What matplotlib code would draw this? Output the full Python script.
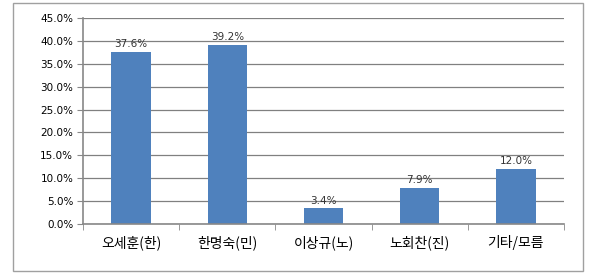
import matplotlib.pyplot as plt
from matplotlib.patches import Rectangle

plt.rcParams['font.family'] = ['Noto Sans CJK KR', 'DejaVu Sans']

candidates = ["오세훈(한)", "한명숙(민)", "이상규(노)", "노회찬(진)", "기타/모름"]
support = [37.6, 39.2, 3.4, 7.9, 12.0]
yticks = [0, 5, 10, 15, 20, 25, 30, 35, 40, 45]

fig = plt.figure(figsize=(5.9, 2.74), dpi=100)
fig.patches.append(Rectangle((13 / 590, 3 / 274), 570 / 590, 268 / 274,
                             transform=fig.transFigure, fill=False,
                             edgecolor="#a0a0a0", linewidth=1.0))

ax = fig.add_axes([83 / 590, 50 / 274, 481 / 590, 206 / 274])
x = range(len(candidates))
ax.bar(x, support, width=0.41, color="#4f81bd", zorder=2)
for xi, v in zip(x, support):
    ax.text(xi, v + 0.6, f"{v:.1f}%", ha="center", va="bottom", fontsize=7.5,
            family="DejaVu Sans", color="#333333", zorder=3)

ax.set_xlim(-0.5, len(candidates) - 0.5)
ax.set_ylim(0, 45)
ax.set_yticks(yticks)
ax.set_yticklabels([f"{t:.1f}%" for t in yticks], fontsize=7.5,
                   family="DejaVu Sans")
ax.yaxis.grid(True, color="#808080", linewidth=0.9, zorder=0)
ax.set_xticks(list(x))
ax.set_xticklabels(candidates, fontsize=10)
ax.set_xticks([i - 0.5 for i in range(len(candidates) + 1)], minor=True)
ax.tick_params(axis="x", which="major", length=0, pad=8)
ax.tick_params(axis="x", which="minor", length=4, color="#888888")
ax.tick_params(axis="y", length=4, color="#888888", pad=3)

for side in ["top", "right"]:
    ax.spines[side].set_visible(False)
for side in ["left", "bottom"]:
    ax.spines[side].set_color("#888888")
    ax.spines[side].set_linewidth(1.2)

fig.savefig("out.png", dpi=100)
